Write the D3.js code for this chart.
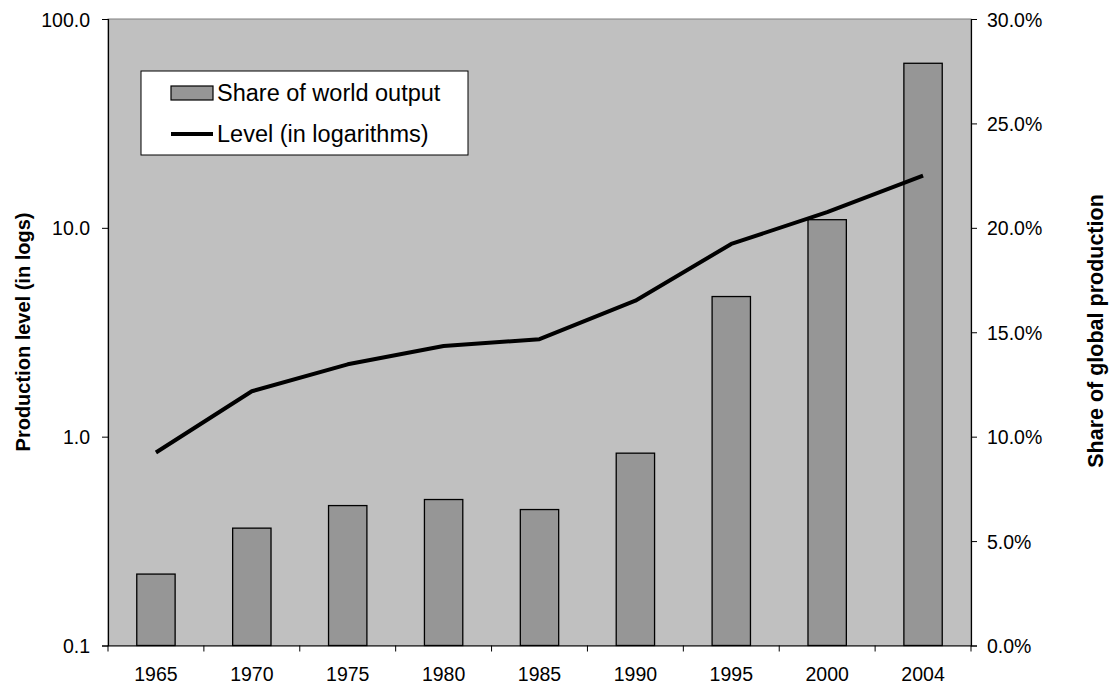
<!DOCTYPE html>
<html>
<head>
<meta charset="utf-8">
<script src="https://cdn.jsdelivr.net/npm/d3@7"></script>
<style>
  body { margin: 0; background: #fff; }
  svg { display: block; font-family: Arial, "Liberation Sans", sans-serif; }
</style>
</head>
<body>
<div id="graph"></div>
<script>
var years = ["1965", "1970", "1975", "1980", "1985", "1990", "1995", "2000", "2004"];
// share of world output, percent (right axis, bars)
var shareValues = [3.42, 5.62, 6.70, 6.99, 6.51, 9.21, 16.71, 20.39, 27.88];
// production level, log scale (left axis, line)
var levelValues = [0.84, 1.65, 2.22, 2.72, 2.93, 4.48, 8.37, 11.9, 17.8];
var leftTicks = [0.1, 1, 10, 100];
var rightTicks = [0, 5, 10, 15, 20, 25, 30];
var legendLabels = ["Share of world output", "Level (in logarithms)"];

var width = 1111, height = 686;
var plot = {left: 108, right: 971, top: 19, bottom: 645.5};

var svg = d3.select("#graph")
  .append("svg")
  .attr("width", width)
  .attr("height", height);

var x = d3.scaleBand().domain(years).range([plot.left, plot.right]).padding(0);
var yLeft = d3.scaleLog().domain([0.1, 100]).range([plot.bottom, plot.top]);
var yRight = d3.scaleLinear().domain([0, 30]).range([plot.bottom, plot.top]);

var data = years.map(function (year, i) {
  return {year: year, share: shareValues[i], level: levelValues[i]};
});

// Plot area
svg.append("rect")
  .attr("x", plot.left)
  .attr("y", plot.top)
  .attr("width", plot.right - plot.left)
  .attr("height", plot.bottom - plot.top)
  .attr("fill", "#c0c0c0")
  .attr("stroke", "#808080")
  .attr("stroke-width", 1);

// Bars
svg.selectAll(".bar")
  .data(data)
  .enter()
  .append("rect")
  .attr("class", "bar")
  .attr("x", function (d) { return x(d.year) + x.bandwidth() * 0.3; })
  .attr("width", x.bandwidth() * 0.4)
  .attr("y", function (d) { return yRight(d.share); })
  .attr("height", function (d) { return plot.bottom - yRight(d.share); })
  .attr("fill", "#969696")
  .attr("stroke", "#000")
  .attr("stroke-width", 1.3);

// Level line
var line = d3.line()
  .x(function (d) { return x(d.year) + x.bandwidth() / 2; })
  .y(function (d) { return yLeft(d.level); });

svg.append("path")
  .datum(data)
  .attr("d", line)
  .attr("fill", "none")
  .attr("stroke", "#000")
  .attr("stroke-width", 4)
  .attr("stroke-linejoin", "round");

// Left axis
var leftAxis = svg.append("g")
  .attr("transform", "translate(" + plot.left + ",0)")
  .call(d3.axisLeft(yLeft).tickValues(leftTicks).tickFormat(d3.format(".1f")).tickSize(6).tickPadding(12));

// Right axis
var rightAxis = svg.append("g")
  .attr("transform", "translate(" + plot.right + ",0)")
  .call(d3.axisRight(yRight).tickValues(rightTicks)
    .tickFormat(function (d) { return d3.format(".1f")(d) + "%"; })
    .tickSize(6).tickPadding(10));

// Bottom axis: labels centred, ticks between categories
var bottomAxis = svg.append("g")
  .attr("transform", "translate(0," + plot.bottom + ")")
  .call(d3.axisBottom(x).tickSize(0).tickPadding(22));

bottomAxis.selectAll(".tick-sep")
  .data(years.concat(["end"]))
  .enter()
  .append("line")
  .attr("class", "tick-sep")
  .attr("x1", function (d) { return d === "end" ? plot.right : x(d); })
  .attr("x2", function (d) { return d === "end" ? plot.right : x(d); })
  .attr("y1", 0)
  .attr("y2", 6)
  .attr("stroke", "#000");

[leftAxis, rightAxis, bottomAxis].forEach(function (g) {
  g.select(".domain").attr("stroke", "#000").attr("stroke-width", 1.2);
  g.selectAll("text")
    .attr("fill", "#000")
    .style("font-size", "19.5px")
    .style("font-family", "Arial, 'Liberation Sans', sans-serif");
  g.selectAll(".tick line").attr("stroke", "#000");
});
leftAxis.selectAll("text").attr("dy", "0.36em");
rightAxis.selectAll("text").attr("dy", "0.36em");

// Axis titles
svg.append("text")
  .attr("transform", "translate(30,332) rotate(-90)")
  .attr("text-anchor", "middle")
  .style("font-size", "20px")
  .style("font-weight", "bold")
  .text("Production level (in logs)");

svg.append("text")
  .attr("transform", "translate(1103,331) rotate(-90)")
  .attr("text-anchor", "middle")
  .style("font-size", "21.5px")
  .style("font-weight", "bold")
  .text("Share of global production");

// Legend
var legend = svg.append("g");
legend.append("rect")
  .attr("x", 141).attr("y", 71)
  .attr("width", 327).attr("height", 84)
  .attr("fill", "#fff")
  .attr("stroke", "#000")
  .attr("stroke-width", 1);

legend.append("rect")
  .attr("x", 171).attr("y", 86)
  .attr("width", 42).attr("height", 14)
  .attr("fill", "#969696")
  .attr("stroke", "#000")
  .attr("stroke-width", 1.2);

legend.append("line")
  .attr("x1", 171).attr("x2", 213)
  .attr("y1", 134).attr("y2", 134)
  .attr("stroke", "#000")
  .attr("stroke-width", 4);

legend.selectAll(".legend-label")
  .data(legendLabels)
  .enter()
  .append("text")
  .attr("class", "legend-label")
  .attr("x", 217)
  .attr("y", function (d, i) { return i === 0 ? 101 : 142; })
  .style("font-size", "23.5px")
  .text(function (d) { return d; });
</script>
</body>
</html>
